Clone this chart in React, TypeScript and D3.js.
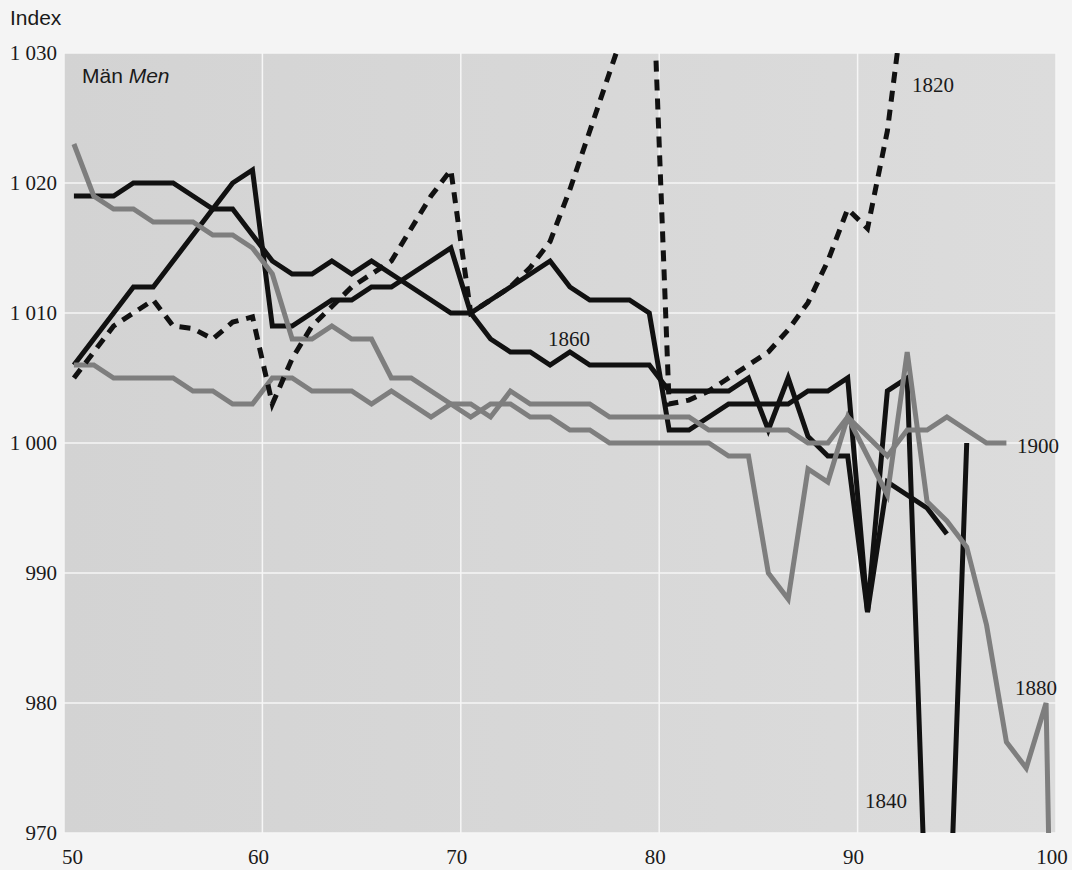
import React from 'react';
import * as d3 from 'd3';

// Age (x) of each observation; values are indexed from age 50
const ages = [
  50, 51, 52, 53, 54, 55, 56, 57, 58, 59,
  60, 61, 62, 63, 64, 65, 66, 67, 68, 69,
  70, 71, 72, 73, 74, 75, 76, 77, 78, 79,
  80, 81, 82, 83, 84, 85, 86, 87, 88, 89,
  90, 91, 92, 93, 94, 95, 96, 97, 98, 99, 100,
];

// Cohort born 1820 (dashed)
const cohort1820 = [
  1005, 1007, 1009, 1010, 1011, 1009, 1008.8, 1008, 1009.3, 1009.7,
  1003, 1006.5, 1009, 1010.5, 1012, 1013, 1014, 1016.5, 1019, 1021,
  1010, 1011, 1012, 1013.5, 1015.5, 1019.5, 1024, 1028.5, 1033, 1043,
  1003, 1003.3, 1004, 1005, 1006, 1007, 1008.7, 1010.8, 1014, 1018,
  1016.5, 1024, 1036,
];

// Cohort born 1840 (black)
const cohort1840 = [
  1006, 1008, 1010, 1012, 1012, 1014, 1016, 1018, 1020, 1021,
  1009, 1009, 1010, 1011, 1011, 1012, 1012, 1013, 1014, 1015,
  1010, 1011, 1012, 1013, 1014, 1012, 1011, 1011, 1011, 1010,
  1001, 1001, 1002, 1003, 1003, 1003, 1003, 1004, 1004, 1005,
  987, 1004, 1005, 961, 957, 1000,
];

// Cohort born 1860 (black)
const cohort1860 = [
  1019, 1019, 1019, 1020, 1020, 1020, 1019, 1018, 1018, 1016,
  1014, 1013, 1013, 1014, 1013, 1014, 1013, 1012, 1011, 1010,
  1010, 1008, 1007, 1007, 1006, 1007, 1006, 1006, 1006, 1006,
  1004, 1004, 1004, 1004, 1005, 1001, 1005, 1000.5, 999, 999,
  987, 997, 996, 995, 993,
];

// Cohort born 1880 (grey)
const cohort1880 = [
  1023, 1019, 1018, 1018, 1017, 1017, 1017, 1016, 1016, 1015,
  1013, 1008, 1008, 1009, 1008, 1008, 1005, 1005, 1004, 1003,
  1002, 1003, 1003, 1002, 1002, 1001, 1001, 1000, 1000, 1000,
  1000, 1000, 1000, 999, 999, 990, 988, 998, 997, 1002,
  999, 996, 1007, 995.5, 994, 992, 986, 977, 975, 980, 900,
];

// Cohort born 1900 (grey)
const cohort1900 = [
  1006, 1006, 1005, 1005, 1005, 1005, 1004, 1004, 1003, 1003,
  1005, 1005, 1004, 1004, 1004, 1003, 1004, 1003, 1002, 1003,
  1003, 1002, 1004, 1003, 1003, 1003, 1003, 1002, 1002, 1002,
  1002, 1002, 1001, 1001, 1001, 1001, 1001, 1000, 1000, 1002,
  1000.5, 999, 1001, 1001, 1002, 1001, 1000, 1000,
];

const xTicks = [50, 60, 70, 80, 90, 100];
const yTicks = [970, 980, 990, 1000, 1010, 1020, 1030];

// Series label anchors, in data units (age, index value)
const labelNames = ['1820', '1860', '1900', '1880', '1840'];
const labelAges = [92.74, 74.4, 98.03, 97.93, 90.37];
const labelValues = [1027.0, 1007.5, 999.2, 980.6, 971.9];

const W = 1072;
const H = 870;
const M = { left: 64, right: 16, top: 53, bottom: 37 };

const serif = '"Liberation Serif", "Times New Roman", Times, serif';
const sans = '"Liberation Sans", Arial, Helvetica, sans-serif';

const fmt = d3.formatLocale({
  decimal: ',',
  thousands: '\u00a0',
  grouping: [3],
  currency: ['', ''],
}).format(',');

export default function App() {
  const x = d3.scaleLinear().domain([50, 100]).range([M.left, W - M.right]);
  const y = d3.scaleLinear().domain([970, 1030]).range([H - M.bottom, M.top]);

  const toPts = (vals: number[]) => vals.map((v, i) => [ages[i], v] as [number, number]);
  const line = d3
    .line<[number, number]>()
    .x((d) => x(d[0] + 0.5))
    .y((d) => y(d[1]));

  const series = [
    { key: '1840', vals: cohort1840, color: '#111111', dash: undefined },
    { key: '1860', vals: cohort1860, color: '#111111', dash: undefined },
    { key: '1900', vals: cohort1900, color: '#7e7e7e', dash: undefined },
    { key: '1880', vals: cohort1880, color: '#7e7e7e', dash: undefined },
    { key: '1820', vals: cohort1820, color: '#111111', dash: '11,8' },
  ];

  const [x0, x1] = x.range();
  const [yb, yt] = y.range();

  return (
    <svg
      width={W}
      height={H}
      style={{ position: 'absolute', left: 0, top: 0, background: '#f4f4f4' }}
    >
      <defs>
        <linearGradient id="plotbg" x1="0" y1="0" x2="1" y2="0">
          <stop offset="0" stopColor="#d3d3d3" />
          <stop offset="1" stopColor="#dcdcdc" />
        </linearGradient>
        <clipPath id="plotclip">
          <rect x={x0} y={yt} width={x1 - x0} height={yb - yt} />
        </clipPath>
      </defs>

      <rect x={x0} y={yt} width={x1 - x0} height={yb - yt} fill="url(#plotbg)" />

      {/* grid */}
      <g stroke="#f6f6f6" strokeWidth={1.5}>
        {yTicks.map((t) => (
          <line key={'gy' + t} x1={x0} x2={x1} y1={y(t)} y2={y(t)} />
        ))}
        {xTicks.map((t) => (
          <line key={'gx' + t} x1={x(t)} x2={x(t)} y1={yt} y2={yb} />
        ))}
      </g>

      {/* series */}
      <g clipPath="url(#plotclip)" fill="none">
        {series.map((s) => (
          <path
            key={s.key}
            d={line(toPts(s.vals)) || ''}
            stroke={s.color}
            strokeWidth={5}
            strokeDasharray={s.dash}
            strokeLinejoin="miter"
            strokeMiterlimit={6}
          />
        ))}
      </g>

      {/* axis labels and series labels */}
      <g fontFamily={serif} fontSize={21} fill="#1a1a1a">
        {yTicks.map((t) => (
          <text key={'ty' + t} x={x0 - 7} y={y(t)} textAnchor="end" dominantBaseline="central">
            {fmt(t)}
          </text>
        ))}
        {xTicks.map((t, i) => (
          <text
            key={'tx' + t}
            x={x(t) + (i === 0 ? -2 : -4)}
            y={yb + 31}
            textAnchor={i === 0 ? 'start' : 'middle'}
          >
            {t}
          </text>
        ))}
        {labelNames.map((n, i) => (
          <text key={'lab' + n} x={x(labelAges[i])} y={y(labelValues[i])}>
            {n}
          </text>
        ))}
      </g>

      <text x={10} y={25} fontFamily={sans} fontSize={21} fill="#1a1a1a">
        Index
      </text>
      <text x={x0 + 18} y={83} fontFamily={sans} fontSize={21} fill="#1a1a1a">
        Män <tspan fontStyle="italic">Men</tspan>
      </text>
    </svg>
  );
}
